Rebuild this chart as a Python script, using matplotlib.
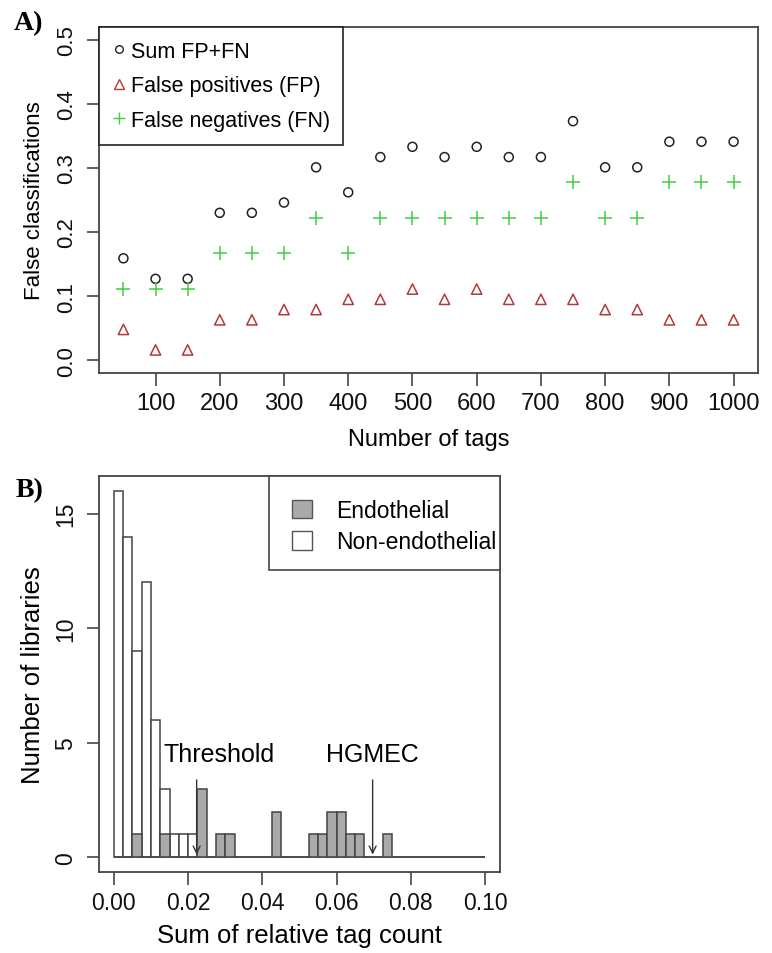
import matplotlib
matplotlib.use("Agg")
import matplotlib.pyplot as plt
from matplotlib.patches import Patch, Rectangle
from matplotlib.lines import Line2D
import numpy as np

plt.rcParams['font.family'] = ['Liberation Sans', 'DejaVu Sans']

# ---------------- Data: panel A ----------------
tags = [50, 100, 150, 200, 250, 300, 350, 400, 450, 500,
        550, 600, 650, 700, 750, 800, 850, 900, 950, 1000]
sum_fpfn = [0.159, 0.127, 0.127, 0.230, 0.230, 0.246, 0.301, 0.262, 0.317, 0.333,
            0.317, 0.333, 0.317, 0.317, 0.373, 0.301, 0.301, 0.341, 0.341, 0.341]
false_pos = [0.048, 0.016, 0.016, 0.063, 0.063, 0.079, 0.079, 0.095, 0.095, 0.111,
             0.095, 0.111, 0.095, 0.095, 0.095, 0.079, 0.079, 0.063, 0.063, 0.063]
false_neg = [0.111, 0.111, 0.111, 0.167, 0.167, 0.167, 0.222, 0.167, 0.222, 0.222,
             0.222, 0.222, 0.222, 0.222, 0.278, 0.222, 0.222, 0.278, 0.278, 0.278]
a_xticks = [100, 200, 300, 400, 500, 600, 700, 800, 900, 1000]
a_yticks = [0.0, 0.1, 0.2, 0.3, 0.4, 0.5]
a_ylabels = ["0.0", "0.1", "0.2", "0.3", "0.4", "0.5"]

# ---------------- Data: panel B ----------------
bin_width = 0.0025
bin_starts = [i * bin_width for i in range(40)]
non_endo_counts = [16, 14, 9, 12, 6, 3, 1, 1, 1, 0,
                   0, 0, 0, 0, 0, 0, 0, 0, 0, 0,
                   0, 0, 0, 0, 0, 0, 0, 0, 0, 0,
                   0, 0, 0, 0, 0, 0, 0, 0, 0, 0]
endo_counts = [0, 0, 1, 0, 0, 1, 0, 0, 0, 3,
               0, 1, 1, 0, 0, 0, 0, 2, 0, 0,
               0, 1, 1, 2, 2, 1, 1, 0, 0, 1,
               0, 0, 0, 0, 0, 0, 0, 0, 0, 0]
threshold_x = 0.0223
hgmec_x = 0.0697
b_xticks = [0.00, 0.02, 0.04, 0.06, 0.08, 0.10]
b_xlabels = ["0.00", "0.02", "0.04", "0.06", "0.08", "0.10"]
b_yticks = [0, 5, 10, 15]

W, H = 772, 954
fig = plt.figure(figsize=(W / 100, H / 100), dpi=100)

def px_axes(l, t, r, b):
    return fig.add_axes([l / W, 1 - b / H, (r - l) / W, (b - t) / H])

def fig_xy(x, y):
    return (x / W, 1 - y / H)

spine_col = '#444444'

def style(ax, fs):
    for s in ax.spines.values():
        s.set_color(spine_col)
        s.set_linewidth(1.3)
    ax.tick_params(direction='out', length=9, width=1.2, color=spine_col,
                   labelsize=fs, labelcolor='#111111')

def frame_px(l, t, r, b, ec):
    fig.patches.append(Rectangle(fig_xy(l, b), (r - l) / W, (b - t) / H,
                                 transform=fig.transFigure, facecolor='white',
                                 edgecolor=ec, linewidth=1.2, zorder=4))

# ---------------- Panel A ----------------
axA = px_axes(99, 28, 758, 374)
axA.scatter(tags, sum_fpfn, marker='o', s=42, facecolors='none',
            edgecolors='#222222', linewidths=1.1, zorder=3)
axA.scatter(tags, false_pos, marker='^', s=55, facecolors='none',
            edgecolors='#b23a3a', linewidths=1.1, zorder=3)
axA.scatter(tags, false_neg, marker='+', s=90, color='#3fcf3f',
            linewidths=1.1, zorder=3)
axA.set_xlim(12, 1038)
axA.set_ylim(-0.02, 0.52)
axA.set_xticks(a_xticks)
axA.set_yticks(a_yticks)
axA.set_yticklabels(a_ylabels, rotation=90, va='center')
style(axA, 17)
axA.tick_params(axis='y', labelsize=16, pad=7)
axA.tick_params(axis='x', pad=5)
axA.set_xlabel("Number of tags", fontsize=17, labelpad=10)
axA.set_ylabel("False classifications", fontsize=16, labelpad=8)

frame_px(99, 28, 343, 146, '#222222')
handlesA = [
    Line2D([], [], ls='none', marker='o', ms=5.5, mfc='none', mec='#222222', mew=1.0),
    Line2D([], [], ls='none', marker='^', ms=6.5, mfc='none', mec='#b23a3a', mew=1.0),
    Line2D([], [], ls='none', marker='+', ms=8, color='#3fcf3f', mew=1.0),
]
legA = fig.legend(handlesA, ["Sum FP+FN", "False positives (FP)", "False negatives (FN)"],
                  loc='upper left', bbox_to_anchor=fig_xy(113, 42), borderaxespad=0,
                  borderpad=0, fontsize=15.5, frameon=False,
                  handlelength=0.6, handletextpad=0.25, labelspacing=0.62)
legA.set_zorder(5)

fig.text(29 / W, 1 - 24 / H, "A)", fontsize=20, fontweight='bold',
         family='Liberation Serif', ha='center', va='center')

# ---------------- Panel B ----------------
axB = px_axes(99, 477, 500, 873)
axB.bar(bin_starts, non_endo_counts, width=bin_width, align='edge',
        color='white', edgecolor='#444444', linewidth=1.1, zorder=2)
axB.bar(bin_starts, endo_counts, width=bin_width, align='edge',
        color='#aaaaaa', edgecolor='#444444', linewidth=1.1, zorder=3)
axB.set_xlim(-0.004, 0.104)
axB.set_ylim(-0.64, 16.64)
axB.set_xticks(b_xticks)
axB.set_xticklabels(b_xlabels)
axB.set_yticks(b_yticks)
axB.set_yticklabels([str(v) for v in b_yticks], rotation=90, va='center')
style(axB, 16.5)
axB.tick_params(axis='y', pad=7)
axB.tick_params(axis='x', pad=5)
axB.set_xlabel("Sum of relative tag count", fontsize=18.5, labelpad=6)
axB.set_ylabel("Number of libraries", fontsize=18.5, labelpad=6)

arrow_kw = dict(arrowstyle='->,head_length=0.5,head_width=0.25', color='#333333', lw=1.0)
axB.annotate('', xy=(threshold_x, 0), xytext=(threshold_x, 3.5), arrowprops=arrow_kw, zorder=5)
axB.annotate('', xy=(hgmec_x, 0), xytext=(hgmec_x, 3.5), arrowprops=arrow_kw, zorder=5)
axB.text(0.0283, 4.5, "Threshold", fontsize=18, ha='center', va='center')
axB.text(hgmec_x, 4.5, "HGMEC", fontsize=18, ha='center', va='center')

frame_px(269, 477, 500, 571, '#444444')
handlesB = [Patch(facecolor='#aaaaaa', edgecolor='#555555', linewidth=1.0),
            Patch(facecolor='white', edgecolor='#555555', linewidth=1.0)]
legB = fig.legend(handlesB, ["Endothelial", "Non-endothelial"],
                  loc='upper left', bbox_to_anchor=fig_xy(292, 500), borderaxespad=0,
                  borderpad=0, fontsize=16.5, frameon=False,
                  handlelength=0.87, handleheight=0.87,
                  handletextpad=1.05, labelspacing=0.36)
legB.set_zorder(5)

fig.text(29 / W, 1 - 491 / H, "B)", fontsize=20, fontweight='bold',
         family='Liberation Serif', ha='center', va='center')

fig.savefig("out.png", dpi=100)
